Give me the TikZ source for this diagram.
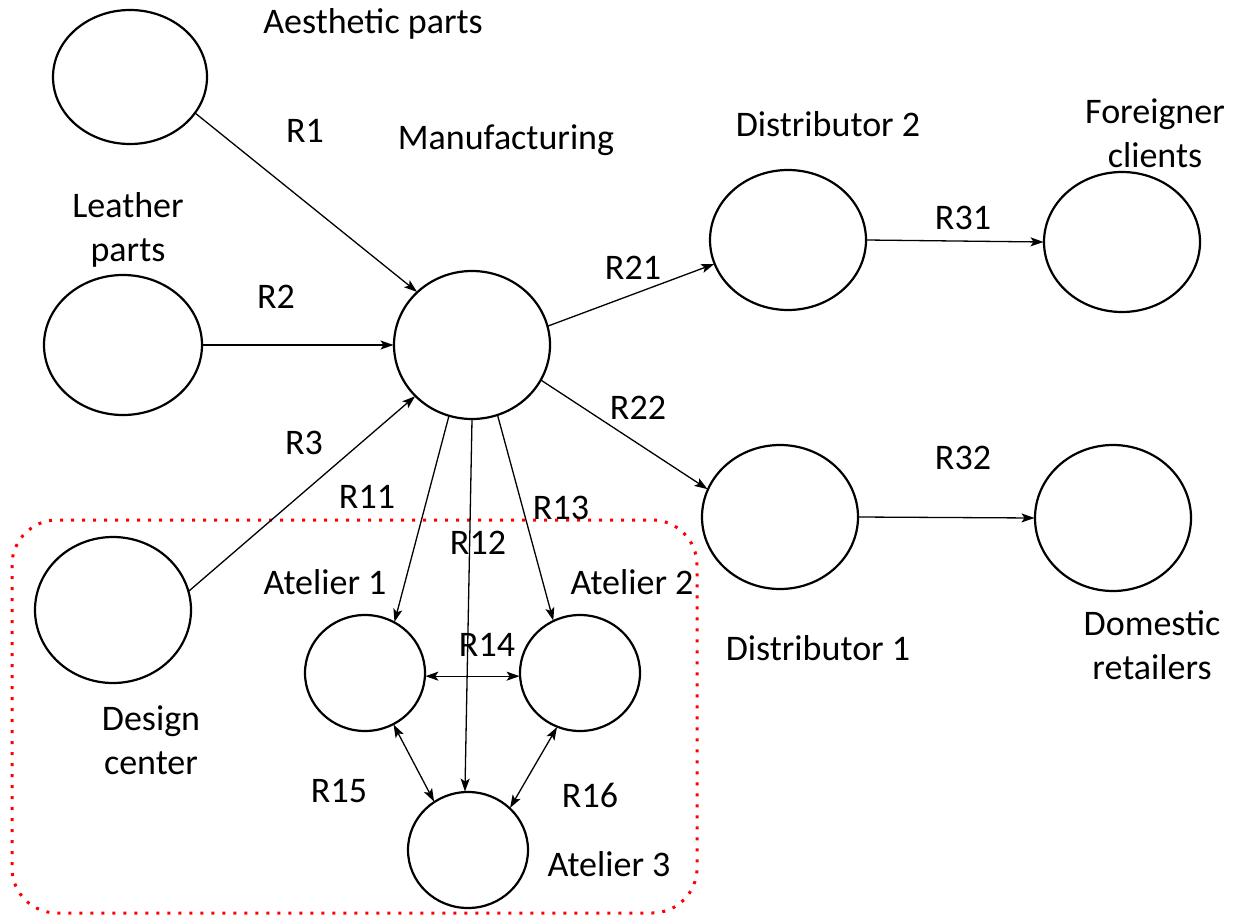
\documentclass[tikz,border=0pt]{standalone}
\usepackage{fontspec}
\setmainfont{Carlito}
\usetikzlibrary{arrows.meta,shapes.geometric}
\begin{document}
\begin{tikzpicture}[x=1pt,y=-1pt,
  ent/.style 2 args={draw=black,line width=2.2pt,ellipse,inner sep=0pt,outer sep=0.5pt,minimum width=#1,minimum height=#2},
  lbl/.style={font=\fontsize{36}{44}\selectfont,align=center,inner sep=0pt},
  conn/.style={line width=1.3pt,-{Stealth[length=13pt,width=9pt,inset=3pt]}},
  bconn/.style={line width=1.3pt,{Stealth[length=13pt,width=9pt,inset=3pt]}-{Stealth[length=13pt,width=9pt,inset=3pt]}}]
\useasboundingbox (0,0) rectangle (1233,915);
% dotted red group
\draw[red,line width=3pt,dash pattern=on 3pt off 8pt,rounded corners=45pt] (12,520) rectangle (697,913);
% entities
\node[ent={154pt}{134pt}] (aes) at (130,77) {};
\node[ent={158pt}{140pt}] (lea) at (123,345) {};
\node[ent={156pt}{146pt}] (des) at (113,610) {};
\node[ent={156pt}{148pt}] (man) at (472,345) {};
\node[ent={156pt}{140pt}] (di2) at (788,240) {};
\node[ent={156pt}{140pt}] (for) at (1122,242) {};
\node[ent={156pt}{144pt}] (di1) at (780,517) {};
\node[ent={156pt}{146pt}] (dom) at (1113,518) {};
\node[ent={120pt}{116pt}] (at1) at (365,673) {};
\node[ent={120pt}{116pt}] (at2) at (580,673) {};
\node[ent={120pt}{116pt}] (at3) at (468,850) {};
% connectors
\draw[conn] (aes.-29.3) -- (man.136);
\draw[conn] (lea.east) -- (man.west);
\draw[conn] (des.14.2) -- (man.222.3);
\draw[conn] (man.14.2) -- (di2.198.7);
\draw[conn] (man.-27.6) -- (di1.159.7);
\draw[conn] (di2.east) -- (for.west);
\draw[conn] (di1.east) -- (dom.west);
\draw[conn] (man.-108.4) -- (at1.60.5);
\draw[conn] (man.south) -- (at3.93);
\draw[conn] (man.-70.4) -- (at2.117.4);
\draw[bconn] (at1.-3.8) -- (at2.183.8);
\draw[bconn] (at1.-61) -- (at3.125.5);
\draw[bconn] (at2.247.3) -- (at3.45);
% labels
\node[lbl] (t1) at (373,24) {Aesthetic parts};
\node[lbl] (t2) at (305,131) {R1};
\node[lbl] (t3) at (506,140) {Manufacturing};
\node[lbl] (t4) at (128,230) {Leather\\parts};
\node[lbl] (t5) at (276,297) {R2};
\node[lbl] (t6) at (304,443) {R3};
\node[lbl] (t7) at (367,497) {R11};
\node[lbl] (t8) at (478,543) {R12};
\node[lbl] (t9) at (561,508) {R13};
\node[lbl] (t10) at (325,582) {Atelier 1};
\node[lbl] (t11) at (632,582) {Atelier 2};
\node[lbl] (t12) at (487,645) {R14};
\node[lbl] (t13) at (151,740) {Design\\center};
\node[lbl] (t14) at (339,791) {R15};
\node[lbl] (t15) at (590,795) {R16};
\node[lbl] (t16) at (609,864) {Atelier 3};
\node[lbl] (t17) at (828,124) {Distributor 2};
\node[lbl] (t18) at (1155,133) {Foreigner\\clients};
\node[lbl] (t19) at (633,268) {R21};
\node[lbl] (t20) at (963,218) {R31};
\node[lbl] (t21) at (638,408) {R22};
\node[lbl] (t22) at (963,458) {R32};
\node[lbl] (t23) at (818,648) {Distributor 1};
\node[lbl] (t24) at (1152,645) {Domestic\\retailers};
\end{tikzpicture}
\end{document}
